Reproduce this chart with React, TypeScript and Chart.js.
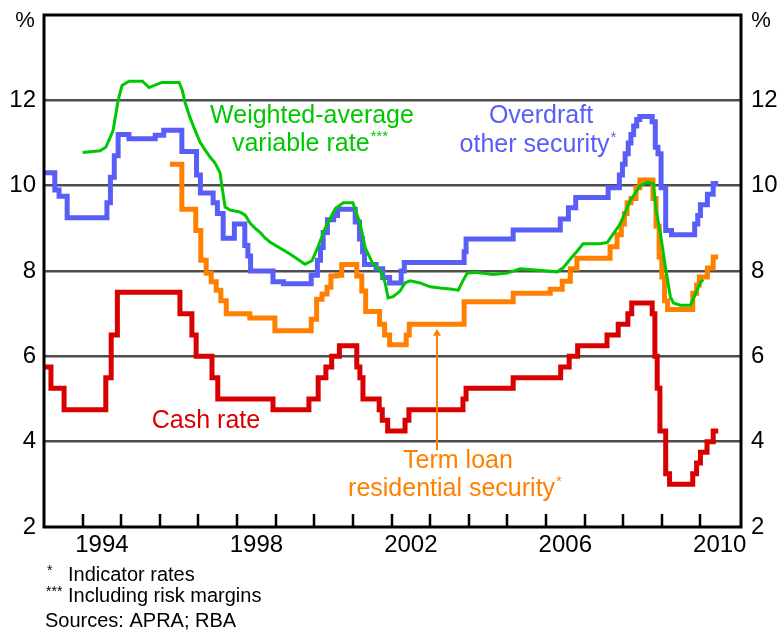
import React, { useEffect, useRef } from 'react';
import { Chart, registerables } from 'chart.js';

Chart.register(...registerables);

// ---------- Data (decimal year of change -> new level) ----------
const cashDates = [1993.0, 1993.18, 1993.52, 1994.6, 1994.74, 1994.9, 1996.52, 1996.83, 1996.94, 1997.35, 1997.5, 1998.93, 1999.86, 2000.1, 2000.3, 2000.45, 2000.65, 2001.1, 2001.18, 2001.26, 2001.68, 2001.76, 2001.9, 2002.35, 2002.45, 2003.85, 2003.93, 2005.15, 2006.38, 2006.6, 2006.82, 2007.58, 2007.87, 2008.12, 2008.22, 2008.75, 2008.82, 2008.88, 2008.95, 2009.1, 2009.2, 2009.8, 2009.9, 2010.0, 2010.17, 2010.33, 2010.46];
const cashRates = [5.75, 5.25, 4.75, 5.5, 6.5, 7.5, 7.0, 6.5, 6.0, 5.5, 5.0, 4.75, 5.0, 5.5, 5.75, 6.0, 6.25, 5.75, 5.5, 5.0, 4.75, 4.5, 4.25, 4.5, 4.75, 5.0, 5.25, 5.5, 5.75, 6.0, 6.25, 6.5, 6.75, 7.0, 7.25, 7.0, 6.0, 5.25, 4.25, 3.25, 3.0, 3.25, 3.5, 3.75, 4.0, 4.25, 4.25];

const overdraftDates = [1993.0, 1993.28, 1993.39, 1993.6, 1994.63, 1994.72, 1994.82, 1994.92, 1995.2, 1995.88, 1996.1, 1996.57, 1996.95, 1997.05, 1997.38, 1997.49, 1997.64, 1997.93, 1998.2, 1998.28, 1998.35, 1998.93, 1999.2, 1999.92, 2000.08, 2000.16, 2000.23, 2000.34, 2000.5, 2000.6, 2001.06, 2001.17, 2001.25, 2001.3, 2001.6, 2001.77, 2001.95, 2002.25, 2002.33, 2003.88, 2003.93, 2005.15, 2006.37, 2006.58, 2006.77, 2007.61, 2007.9, 2007.98, 2008.05, 2008.13, 2008.2, 2008.27, 2008.35, 2008.43, 2008.75, 2008.83, 2008.9, 2008.98, 2009.1, 2009.25, 2009.85, 2009.93, 2010.0, 2010.18, 2010.33, 2010.46];
const overdraftRates = [10.3, 9.9, 9.75, 9.25, 9.6, 10.2, 10.7, 11.2, 11.1, 11.18, 11.3, 10.8, 10.25, 9.83, 9.6, 9.35, 8.77, 9.1, 8.6, 8.35, 8.0, 7.75, 7.7, 7.9, 8.25, 8.55, 8.9, 9.2, 9.3, 9.45, 9.15, 8.75, 8.45, 8.15, 8.05, 7.85, 7.72, 8.0, 8.2, 8.45, 8.75, 8.96, 9.22, 9.48, 9.72, 9.95, 10.25, 10.5, 10.75, 11.0, 11.2, 11.4, 11.55, 11.62, 11.5, 10.9, 10.75, 9.95, 8.95, 8.85, 9.1, 9.3, 9.55, 9.8, 10.05, 10.05];

const termLoanDates = [1996.26, 1996.57, 1996.93, 1997.06, 1997.2, 1997.33, 1997.46, 1997.58, 1997.72, 1998.33, 1998.98, 1999.92, 2000.06, 2000.2, 2000.33, 2000.43, 2000.58, 2000.71, 2001.1, 2001.23, 2001.33, 2001.69, 2001.82, 2001.95, 2002.38, 2002.46, 2003.88, 2005.15, 2006.11, 2006.42, 2006.63, 2006.8, 2007.66, 2007.84, 2007.95, 2008.03, 2008.1, 2008.2, 2008.33, 2008.43, 2008.77, 2008.85, 2008.93, 2009.0, 2009.07, 2009.15, 2009.8, 2009.9, 2009.97, 2010.18, 2010.33, 2010.46];
const termLoanRates = [10.5, 9.45, 8.95, 8.25, 7.95, 7.75, 7.55, 7.3, 7.0, 6.9, 6.6, 6.87, 7.34, 7.46, 7.62, 7.88, 7.9, 8.15, 7.88, 7.53, 7.05, 6.75, 6.5, 6.27, 6.5, 6.75, 7.28, 7.48, 7.57, 7.76, 8.05, 8.3, 8.57, 8.85, 9.1, 9.35, 9.6, 9.7, 9.95, 10.13, 9.7, 9.05, 8.33, 7.86, 7.3, 7.1, 7.48, 7.67, 7.86, 8.07, 8.33, 8.33];

const wavDates = [1994.0, 1994.45, 1994.6, 1994.7, 1994.79, 1994.92, 1995.02, 1995.2, 1995.55, 1995.72, 1996.05, 1996.5, 1996.58, 1996.65, 1996.78, 1996.91, 1997.04, 1997.17, 1997.3, 1997.43, 1997.56, 1997.61, 1997.69, 1997.82, 1998.08, 1998.21, 1998.34, 1998.47, 1998.6, 1998.73, 1998.85, 1999.37, 1999.76, 1999.94, 2000.1, 2000.28, 2000.54, 2000.75, 2001.0, 2001.19, 2001.32, 2001.5, 2001.7, 2001.83, 2001.91, 2002.04, 2002.22, 2002.35, 2002.48, 2002.74, 2003.0, 2003.26, 2003.52, 2003.73, 2003.83, 2003.96, 2004.17, 2004.63, 2005.0, 2005.33, 2006.29, 2006.45, 2006.63, 2006.81, 2006.96, 2007.4, 2007.59, 2007.74, 2007.92, 2008.18, 2008.44, 2008.62, 2008.78, 2008.85, 2008.96, 2009.09, 2009.22, 2009.3, 2009.48, 2009.74, 2009.84, 2009.99, 2010.07];
const wavRates = [10.78, 10.82, 10.9, 11.1, 11.3, 12.0, 12.35, 12.45, 12.45, 12.3, 12.42, 12.42, 12.24, 11.96, 11.6, 11.3, 11.02, 10.84, 10.67, 10.53, 10.3, 9.97, 9.5, 9.43, 9.38, 9.31, 9.12, 9.0, 8.9, 8.77, 8.68, 8.4, 8.16, 8.24, 8.58, 9.0, 9.46, 9.6, 9.6, 9.1, 8.54, 8.2, 8.02, 7.74, 7.37, 7.4, 7.53, 7.72, 7.77, 7.72, 7.63, 7.6, 7.58, 7.55, 7.74, 7.95, 7.97, 7.92, 7.95, 8.05, 7.98, 8.08, 8.28, 8.47, 8.64, 8.64, 8.67, 8.87, 9.1, 9.65, 10.0, 10.08, 10.05, 9.43, 8.9, 8.1, 7.4, 7.25, 7.2, 7.2, 7.4, 7.72, 7.8];

const tickYears = [1994, 1995, 1996, 1997, 1998, 1999, 2000, 2001, 2002, 2003, 2004, 2005, 2006, 2007, 2008, 2009, 2010];
const labelYears = [1994, 1998, 2002, 2006, 2010];
const yTicks = [2, 4, 6, 8, 10, 12, 14];

const pointerYear = 2003.18;
const pointerFrom = 3.8;
const pointerTo = 6.55;

// ---------- Styles ----------
const RED = '#d80000';
const BLUE = '#585ef6';
const ORANGE = '#ff8000';
const GREEN = '#00c800';
const FONT = '"Liberation Sans", Arial, sans-serif';

const toPts = (xs: number[], ys: number[]) => xs.map((x, i) => ({ x, y: ys[i] }));

function drawLine(ctx: CanvasRenderingContext2D, main: string, sup: string, cx: number, cy: number, color: string, size: number) {
  ctx.font = `${size}px ${FONT}`;
  const w1 = ctx.measureText(main).width;
  ctx.font = `${Math.round(size * 0.6)}px ${FONT}`;
  const w2 = sup ? ctx.measureText(sup).width + 1 : 0;
  const start = cx - (w1 + w2) / 2;
  ctx.fillStyle = color;
  ctx.textAlign = 'left';
  ctx.textBaseline = 'middle';
  ctx.font = `${size}px ${FONT}`;
  ctx.fillText(main, start, cy);
  if (sup) {
    ctx.font = `${Math.round(size * 0.6)}px ${FONT}`;
    ctx.fillText(sup, start + w1 + 1, cy - size * 0.3);
  }
}

const zeroPad = (s: any) => {
  s.paddingTop = 0;
  s.paddingBottom = 0;
  s.paddingLeft = 0;
  s.paddingRight = 0;
};

const overlay = {
  id: 'overlay',
  afterDatasetsDraw(chart: any) {
    const { ctx, chartArea: a, scales } = chart;
    const xs = scales.x;
    const ys = scales.y;
    ctx.save();
    // tick marks pointing up into plot
    ctx.strokeStyle = '#000';
    ctx.lineWidth = 2.5;
    tickYears.forEach((yr) => {
      const px = Math.round(xs.getPixelForValue(yr));
      ctx.beginPath();
      ctx.moveTo(px, a.bottom);
      ctx.lineTo(px, a.bottom - 13);
      ctx.stroke();
    });
    // frame
    ctx.lineWidth = 3;
    ctx.strokeRect(a.left, a.top, a.right - a.left, a.bottom - a.top);

    // pointer for term loan
    const px = Math.round(xs.getPixelForValue(pointerYear));
    const y1 = ys.getPixelForValue(pointerFrom);
    const y2 = ys.getPixelForValue(pointerTo);
    ctx.strokeStyle = ORANGE;
    ctx.fillStyle = ORANGE;
    ctx.lineWidth = 2;
    ctx.beginPath();
    ctx.moveTo(px, y1);
    ctx.lineTo(px, y2);
    ctx.stroke();
    ctx.beginPath();
    ctx.moveTo(px, y2 - 4);
    ctx.lineTo(px - 4, y2 + 3);
    ctx.lineTo(px + 4, y2 + 3);
    ctx.closePath();
    ctx.fill();

    // series labels
    drawLine(ctx, 'Weighted-average', '', 312, 116, GREEN, 25);
    drawLine(ctx, 'variable rate', '***', 310, 144, GREEN, 25);
    drawLine(ctx, 'Overdraft', '', 541, 116, BLUE, 25);
    drawLine(ctx, 'other security', '*', 538, 145, BLUE, 25);
    drawLine(ctx, 'Cash rate', '', 206, 421, RED, 25);
    drawLine(ctx, 'Term loan', '', 458, 461, ORANGE, 25);
    drawLine(ctx, 'residential security', '*', 455, 489, ORANGE, 25);

    // % units
    ctx.fillStyle = '#000';
    ctx.font = `22px ${FONT}`;
    ctx.textBaseline = 'middle';
    ctx.textAlign = 'center';
    ctx.fillText('%', 25, 21);
    ctx.fillText('%', 761, 21);

    // footnotes
    ctx.textAlign = 'left';
    ctx.font = `14px ${FONT}`;
    ctx.fillText('*', 47, 571);
    ctx.fillText('***', 46, 592);
    ctx.font = `20px ${FONT}`;
    ctx.fillText('Indicator rates', 68, 575);
    ctx.fillText('Including risk margins', 68, 596);
    ctx.fillText('Sources: APRA; RBA', 45, 621);
    ctx.restore();
  },
};

export default function App() {
  const ref = useRef<HTMLCanvasElement | null>(null);
  useEffect(() => {
    if (!ref.current) return;
    const tickFont = { family: FONT, size: 24 };
    const chart = new Chart(ref.current, {
      type: 'line',
      data: {
        datasets: [
          { label: 'Weighted-average variable rate', data: toPts(wavDates, wavRates), borderColor: GREEN, borderWidth: 3, pointRadius: 0, tension: 0, order: 0, xAxisID: 'x', yAxisID: 'y' },
          { label: 'Cash rate', data: toPts(cashDates, cashRates), borderColor: RED, borderWidth: 5, pointRadius: 0, stepped: 'before', order: 1, borderJoinStyle: 'miter', borderCapStyle: 'butt', xAxisID: 'x', yAxisID: 'y' },
          { label: 'Term loan residential security', data: toPts(termLoanDates, termLoanRates), borderColor: ORANGE, borderWidth: 5, pointRadius: 0, stepped: 'before', order: 2, borderJoinStyle: 'miter', borderCapStyle: 'butt', xAxisID: 'x', yAxisID: 'y' },
          { label: 'Overdraft other security', data: toPts(overdraftDates, overdraftRates), borderColor: BLUE, borderWidth: 5, pointRadius: 0, stepped: 'before', order: 3, borderJoinStyle: 'miter', borderCapStyle: 'butt', xAxisID: 'x', yAxisID: 'y' },
        ] as any,
      },
      options: {
        animation: false,
        responsive: false,
        devicePixelRatio: 1,
        layout: { padding: { top: 15, left: 0, right: 0, bottom: 0 } },
        plugins: { legend: { display: false }, tooltip: { enabled: false } },
        scales: {
          x: { type: 'linear', min: 1993, max: 2011.05, display: false },
          xl: {
            type: 'linear',
            position: 'bottom',
            min: 1993,
            max: 2011.05,
            afterBuildTicks: (s: any) => { s.ticks = labelYears.map((v) => ({ value: v + 0.5 })); },
            afterFit: (s: any) => { s.height = 105; zeroPad(s); },
            grid: { display: false, drawTicks: false },
            border: { display: false },
            ticks: { padding: 4, autoSkip: false, maxRotation: 0, color: '#000', font: tickFont, callback: (v: any) => String(Math.floor(Number(v))) },
          },
          y: {
            position: 'left',
            min: 2,
            max: 14,
            afterBuildTicks: (s: any) => { s.ticks = yTicks.map((v) => ({ value: v })); },
            afterFit: (s: any) => { s.width = 44; zeroPad(s); },
            grid: { color: (c: any) => (c.tick && (c.tick.value === 2 || c.tick.value === 14) ? 'rgba(0,0,0,0)' : '#4d4d4d'), lineWidth: 2.5, drawTicks: false },
            border: { display: false },
            ticks: { padding: 8, color: '#000', font: tickFont, callback: (v: any) => (Number(v) === 14 ? '' : String(v)) },
          },
          y2: {
            position: 'right',
            min: 2,
            max: 14,
            afterBuildTicks: (s: any) => { s.ticks = yTicks.map((v) => ({ value: v })); },
            afterFit: (s: any) => { s.width = 39; zeroPad(s); },
            grid: { display: false, drawTicks: false },
            border: { display: false },
            ticks: { padding: 10, color: '#000', font: tickFont, callback: (v: any) => (Number(v) === 14 ? '' : String(v)) },
          },
        },
      } as any,
      plugins: [overlay as any],
    });
    return () => chart.destroy();
  }, []);
  return (
    <div style={{ position: 'absolute', left: 0, top: 0, width: 780, height: 632, background: '#fff' }}>
      <canvas ref={ref} width={780} height={632} style={{ display: 'block' }} />
    </div>
  );
}
